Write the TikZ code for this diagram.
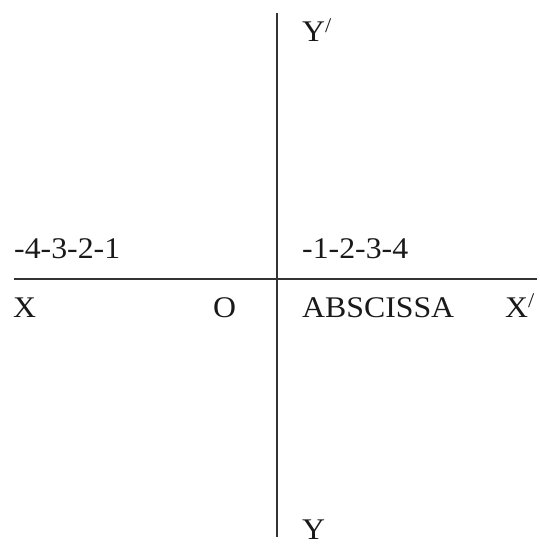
\documentclass[tikz,border=0pt]{standalone}
\usepackage{fontspec}
\setmainfont{Liberation Serif}[FakeStretch=1.06]
\usetikzlibrary{positioning}

\begin{document}
\begin{tikzpicture}[
  x=1pt, y=-1pt,
  axis/.style={draw=black!80, line width=1.2pt},
  lbl/.style={anchor=base west, inner sep=0pt, text=black!90,
              font=\fontsize{30}{36}\selectfont}
]
  \useasboundingbox (0,0) rectangle (539,545);

  % axis end points
  \coordinate (ytop) at (277,13);
  \coordinate (ybot) at (277,537);
  \coordinate (xleft) at (14,279);
  \coordinate (xright) at (537,279);

  % axes
  \draw[axis] (ytop) -- (ybot);
  \draw[axis] (xleft) -- (xright);

  % labels on the axes
  \node[lbl] (yprime) at (302,42) {Y\textsuperscript{/}};
  \node[lbl] (yend) at (302,539) {Y};
  \node[lbl] (negleft) at (14,258) {-4-3-2-1};
  \node[lbl] (negright) at (302,258) {-1-2-3-4};
  \node[lbl] (xend) at (13,317) {X};
  \node[lbl] (origin) at (213,317) {O};
  \node[lbl] (absc) at (302,317) {ABSCISSA};
  \node[lbl] (xprime) at (505,317) {X\textsuperscript{/}};
\end{tikzpicture}
\end{document}
